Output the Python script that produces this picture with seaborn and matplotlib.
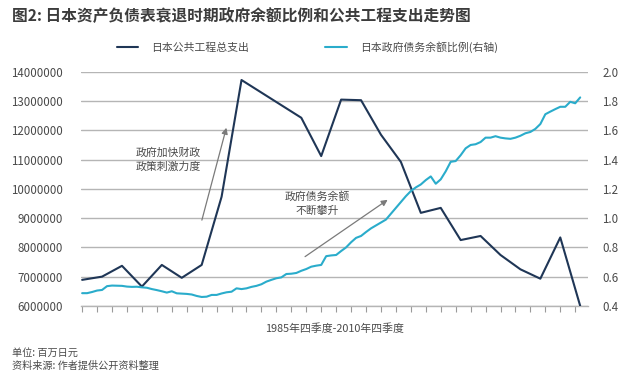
import numpy as np
import pandas as pd
import matplotlib
matplotlib.use("Agg")
import matplotlib.pyplot as plt
from matplotlib.ticker import FuncFormatter, FormatStrFormatter
import seaborn as sns

# quarters from 1985Q4 (0) to 2010Q4 (100)
spend_quarter = list(range(0, 101, 4))
public_spending = [6890000, 7000000, 7370000, 6660000, 7400000, 6960000, 7400000,
                   9730000, 13720000, 13290000, 12860000, 12430000, 11120000,
                   13050000, 13030000, 11850000, 10920000, 9180000, 9350000,
                   8250000, 8390000, 7740000, 7250000, 6930000, 8340000, 6000000]

debt_quarter = list(range(0, 101))
debt_ratio = [0.487, 0.487, 0.495, 0.505, 0.509, 0.535, 0.539, 0.538, 0.537, 0.532,
              0.530, 0.531, 0.527, 0.524, 0.515, 0.508, 0.500, 0.491, 0.500, 0.486,
              0.484, 0.482, 0.478, 0.468, 0.461, 0.463, 0.475, 0.475, 0.485, 0.493,
              0.497, 0.520, 0.515, 0.520, 0.530, 0.537, 0.548, 0.566, 0.578, 0.589,
              0.595, 0.618, 0.620, 0.625, 0.640, 0.652, 0.668, 0.675, 0.680, 0.740,
              0.745, 0.748, 0.775, 0.800, 0.835, 0.865, 0.878, 0.905, 0.930, 0.950,
              0.970, 0.990, 1.030, 1.070, 1.110, 1.150, 1.185, 1.210, 1.230, 1.260,
              1.285, 1.235, 1.265, 1.320, 1.385, 1.390, 1.430, 1.477, 1.500, 1.505,
              1.520, 1.550, 1.550, 1.560, 1.550, 1.545, 1.542, 1.550, 1.563, 1.580,
              1.589, 1.610, 1.643, 1.710, 1.728, 1.745, 1.761, 1.761, 1.795, 1.785,
              1.825]

left_ticks = list(range(6000000, 14000001, 1000000))
right_ticks = [0.4, 0.6, 0.8, 1.0, 1.2, 1.4, 1.6, 1.8, 2.0]

label_spend = "日本公共工程总支出"
label_debt = "日本政府债务余额比例(右轴)"

NAVY = "#1f3656"
CYAN = "#2aaccb"
GRID = "#b5b5b5"
TXT = "#4a4a4a"

sns.set_theme(style="white")
plt.rcParams["font.family"] = ["Noto Sans CJK SC", "DejaVu Sans"]

fig = plt.figure(figsize=(6.4, 3.8), dpi=100)
ax = fig.add_axes([0.126, 0.195, 0.793, 0.616])

spend_df = pd.DataFrame({"q": spend_quarter, "v": public_spending})
debt_df = pd.DataFrame({"q": debt_quarter, "v": debt_ratio})

sns.lineplot(data=spend_df, x="q", y="v", ax=ax, color=NAVY, linewidth=1.5,
             label=label_spend, legend=False, zorder=3)
ax2 = ax.twinx()
sns.lineplot(data=debt_df, x="q", y="v", ax=ax2, color=CYAN, linewidth=1.5,
             label=label_debt, legend=False, zorder=3)

ax.set_xlim(-0.3, 101.6)
ax.set_ylim(left_ticks[0], left_ticks[-1])
ax2.set_ylim(right_ticks[0], right_ticks[-1])
ax.set_yticks(left_ticks)
ax2.set_yticks(right_ticks)
ax.yaxis.set_major_formatter(FuncFormatter(lambda v, p: f"{int(v)}"))
ax2.yaxis.set_major_formatter(FormatStrFormatter("%.1f"))

ax.set_xticks(list(range(0, 100, 3)))
ax.set_xticklabels([])
ax.tick_params(axis="x", direction="out", length=4, width=0.8, color="#9a9a9a", bottom=True)
ax.tick_params(axis="y", length=0, pad=13, labelsize=8.3, labelcolor=TXT)
ax2.tick_params(axis="y", length=0, pad=10, labelsize=8.3, labelcolor=TXT)

ax.grid(axis="y", color=GRID, linewidth=1.0)
ax.set_axisbelow(True)
for a in (ax, ax2):
    for s in a.spines.values():
        s.set_visible(False)
ax.spines["bottom"].set_visible(True)
ax.spines["bottom"].set_color(GRID)
ax.spines["bottom"].set_linewidth(1.0)

ax.set_ylabel("")
ax2.set_ylabel("")
ax.set_xlabel("1985年四季度-2010年四季度", fontsize=7.8, color=TXT, labelpad=5)

# annotations
arrow_kw = dict(arrowstyle="-|>", color="#7a7a7a", lw=0.9, mutation_scale=9)
ax.annotate("", xy=(29.1, 12180000), xytext=(23.9, 8840000), arrowprops=arrow_kw)
ax.annotate("", xy=(61.8, 9680000), xytext=(44.3, 7630000), arrowprops=arrow_kw)
ax.text(17.3, 11000000, "政府加快财政\n政策刺激力度", ha="center", va="center",
        fontsize=7.8, color=TXT, linespacing=1.45)
ax.text(47.3, 9490000, "政府债务余额\n不断攀升", ha="center", va="center",
        fontsize=7.8, color=TXT, linespacing=1.45)

# legend
handles = [ax.get_lines()[0], ax2.get_lines()[0]]
fig.legend(handles, [label_spend, label_debt], ncol=2, loc="center",
           bbox_to_anchor=(0.48, 0.876), frameon=False, fontsize=7.8,
           handlelength=2.0, handletextpad=1.2, columnspacing=7.0, labelcolor=TXT)

fig.text(0.019, 0.958, "图2: 日本资产负债表衰退时期政府余额比例和公共工程支出走势图",
         fontsize=11.3, fontweight="bold", color="#3c3c3c", va="center", ha="left")
fig.text(0.019, 0.071, "单位: 百万日元", fontsize=7.3, color=TXT, va="center", style="italic")
fig.text(0.019, 0.037, "资料来源: 作者提供公开资料整理", fontsize=7.3, color=TXT, va="center",
         style="italic")

fig.savefig("out.png", dpi=100)
plt.close(fig)
